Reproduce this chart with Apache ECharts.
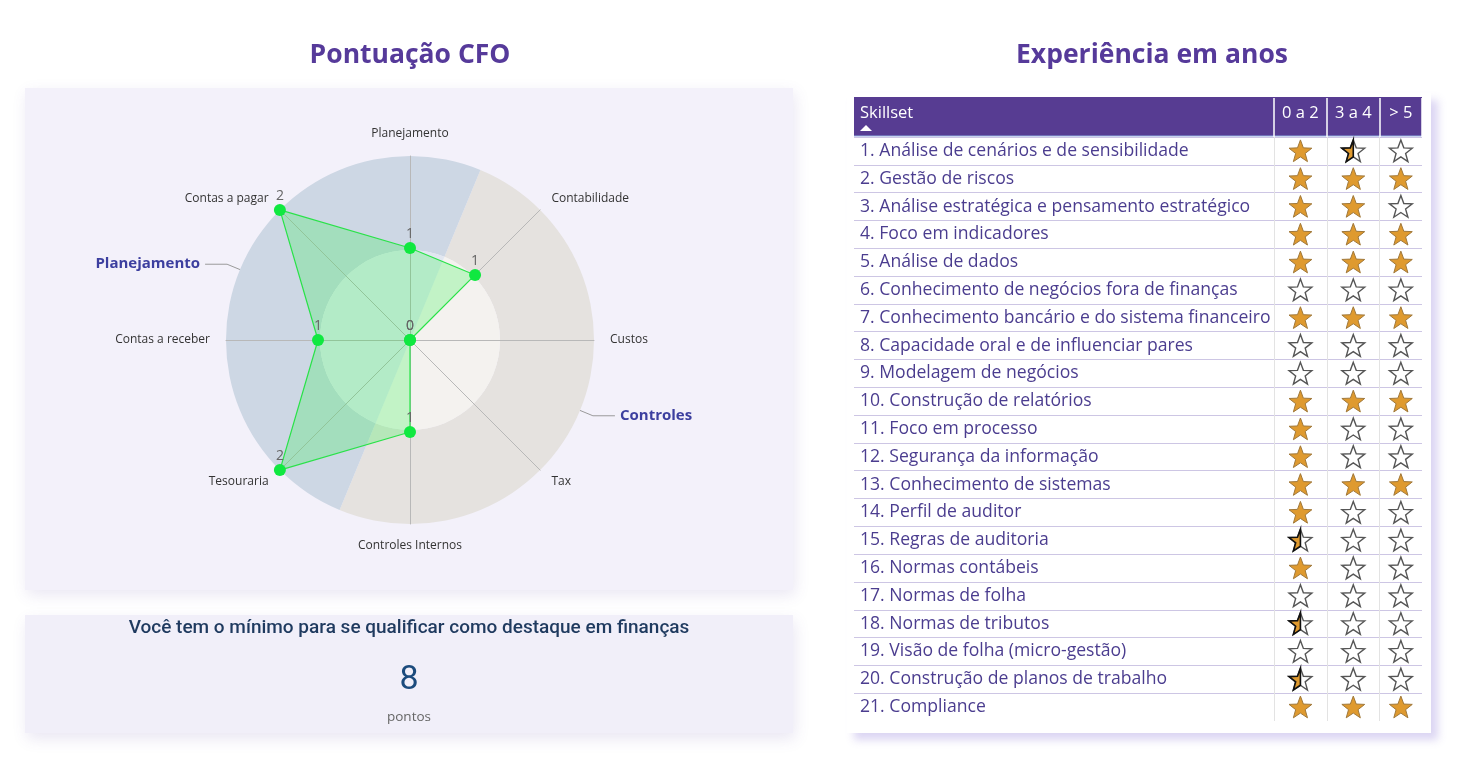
<!DOCTYPE html>
<html><head><meta charset="utf-8">
<script src="https://cdn.jsdelivr.net/npm/echarts@6/dist/echarts.min.js"></script>
<style>html,body{margin:0;padding:0;background:#fff}#c{width:1469px;height:773px}</style>
</head><body><div id="c"></div>
<script>
// ---------- DATA ----------
const radarAxes = ['Planejamento','Contas a pagar','Contas a receber','Tesouraria','Controles Internos','Tax','Custos','Contabilidade'];
const radarValues = [1, 2, 1, 2, 1, 0, 0, 1];
const radarMax = 2;
const groupNames = ['Controles', 'Planejamento'];
const groupSizes = [4, 4];
const skills = [
  '1. Análise de cenários e de sensibilidade',
  '2. Gestão de riscos',
  '3. Análise estratégica e pensamento estratégico',
  '4. Foco em indicadores',
  '5. Análise de dados',
  '6. Conhecimento de negócios fora de finanças',
  '7. Conhecimento bancário e do sistema financeiro',
  '8. Capacidade oral e de influenciar pares',
  '9. Modelagem de negócios',
  '10. Construção de relatórios',
  '11. Foco em processo',
  '12. Segurança da informação',
  '13. Conhecimento de sistemas',
  '14. Perfil de auditor',
  '15. Regras de auditoria',
  '16. Normas contábeis',
  '17. Normas de folha',
  '18. Normas de tributos',
  '19. Visão de folha (micro-gestão)',
  '20. Construção de planos de trabalho',
  '21. Compliance'
];
const yearBands = ['0 a 2', '3 a 4', '> 5'];
const stars0a2 = [1,1,1,1,1,0,1,0,0,1,1,1,1,1,0.5,1,0,0.5,0,0.5,1];
const stars3a4 = [0.5,1,1,1,1,0,1,0,0,1,0,0,1,0,0,0,0,0,0,0,1];
const stars5   = [0,1,0,1,1,0,1,0,0,1,0,0,1,0,0,0,0,0,0,0,1];
const scoreTitle = 'Você tem o mínimo para se qualificar como destaque em finanças';
const scoreUnit = 'pontos';

// ---------- STYLE ----------
const FONT = 'Open Sans';
const purple = '#573c92';
const titleColor = '#563a9a';
const outerColors = ['#e5e2df', '#cdd7e4'];
const innerColors = ['#f4f2ef', '#e1e7f0'];
const xMax = 2.8; // last column is narrower

const starData = [];
[stars0a2, stars3a4, stars5].forEach((arr, c) => arr.forEach((v, r) => starData.push([c, r, v])));

function starPts(cx, cy, R, r) {
  const pts = [];
  for (let k = 0; k < 10; k++) {
    const a = -Math.PI / 2 + k * Math.PI / 5;
    const rad = k % 2 === 0 ? R : r;
    pts.push([cx + rad * Math.cos(a), cy + rad * Math.sin(a)]);
  }
  return pts;
}

const chart = echarts.init(document.getElementById('c'), null, {renderer: 'canvas'});

const option = {
  animation: false,
  backgroundColor: '#ffffff',
  radar: {
    center: [410, 340], radius: 184, startAngle: 90, shape: 'circle', splitNumber: 2, z: 0,
    indicator: radarAxes.map(n => ({name: n, min: 0, max: radarMax})),
    axisName: {color: '#333', fontSize: 12, fontFamily: FONT},
    nameGap: 16,
    axisLine: {lineStyle: {color: '#b8b8b8', width: 1}},
    splitLine: {show: false}, splitArea: {show: false},
    axisTick: {show: false}, axisLabel: {show: false}
  },
  grid: [
    {left: 854, right: 1469 - 1422, top: 137, height: 584, containLabel: false},
    {left: 1274, right: 1469 - 1422, top: 137, height: 584, containLabel: false}
  ],
  xAxis: [
    {gridIndex: 0, type: 'value', show: false, min: 0, max: 1},
    {gridIndex: 1, type: 'value', position: 'top', min: 0, max: xMax, interval: 1,
     axisLine: {show: false}, axisLabel: {show: false},
     axisTick: {show: true, length: 39, lineStyle: {color: '#ffffff', width: 1.5}},
     splitLine: {show: true, showMaxLine: false, lineStyle: {color: '#e3e3e3', width: 1}}}
  ],
  yAxis: [
    {gridIndex: 0, type: 'category', inverse: true, data: skills,
     axisLine: {show: false}, axisTick: {show: false},
     axisLabel: {align: 'left', margin: -6, color: '#4b3d8f', fontSize: 17.6, fontFamily: FONT},
     splitLine: {show: true, showMinLine: true, showMaxLine: false, lineStyle: {color: '#cdc6e4', width: 1}}},
    {gridIndex: 1, type: 'category', inverse: true, data: skills, show: false}
  ],
  series: [
    {type: 'pie', center: [410, 340], radius: [90, 184], startAngle: 90 - 180 / radarAxes.length,
     clockwise: true, z: -1, silent: true, avoidLabelOverlap: false,
     data: groupNames.map((n, i) => ({name: n, value: groupSizes[i], itemStyle: {color: outerColors[i]}})),
     label: {show: true, position: 'outside', fontFamily: FONT, fontWeight: 'bold', fontSize: 15, color: '#3c3f9f', distanceToLabelLine: 5},
     labelLine: {show: true, length: 14, length2: 22, smooth: false, lineStyle: {color: '#9a9a9a', width: 1}},
     emphasis: {disabled: true}},
    {type: 'pie', center: [410, 340], radius: [0, 90], startAngle: 90 - 180 / radarAxes.length,
     clockwise: true, z: -1, silent: true,
     data: groupNames.map((n, i) => ({name: n, value: groupSizes[i], itemStyle: {color: innerColors[i]}})),
     label: {show: false}, labelLine: {show: false}, emphasis: {disabled: true}},
    {type: 'radar', z: 3, silent: true,
     symbol: 'circle', symbolSize: 12,
     itemStyle: {color: '#10e840'},
     lineStyle: {color: '#2ee04d', width: 1.2},
     areaStyle: {color: 'rgba(0,252,40,0.29)'},
     label: {show: true, position: 'top', distance: 1, color: '#666', fontSize: 14, fontFamily: FONT},
     data: [{value: radarValues, name: 'Pontuação'}]},
    {type: 'custom', xAxisIndex: 1, yAxisIndex: 1, z: 4, silent: true,
     data: starData,
     renderItem: function (params, api) {
       const col = api.value(0), row = api.value(1), v = api.value(2);
       const x0 = api.coord([col, row])[0];
       const x1 = api.coord([Math.min(col + 1, xMax), row])[0];
       const cy = api.coord([col, row])[1] + 1;
       const cx = (x0 + x1) / 2;
       const pts = starPts(cx, cy, 12, 5);
       const children = [];
       if (v >= 1) {
         children.push({type: 'polygon', shape: {points: pts}, style: {fill: '#df9a2f', stroke: '#a0783a', lineWidth: 1}});
       } else {
         children.push({type: 'polygon', shape: {points: pts}, style: {fill: '#ffffff', stroke: '#555555', lineWidth: 1.4}});
         if (v > 0) {
           const half = [pts[5], pts[6], pts[7], pts[8], pts[9], pts[0]];
           children.push({type: 'polygon', shape: {points: half}, style: {fill: '#df9a2f', stroke: '#111111', lineWidth: 1.6}});
         }
       }
       return {type: 'group', children: children};
     }}
  ]
};
chart.setOption(option);

// header labels placed with the axis scale
const headerTexts = yearBands.map((b, c) => {
  const a = chart.convertToPixel({xAxisIndex: 1}, c);
  const b2 = chart.convertToPixel({xAxisIndex: 1}, Math.min(c + 1, xMax));
  return {type: 'text', x: (a + b2) / 2, y: 113, z: 20,
    style: {text: b, fill: '#ffffff', fontSize: 16.5, fontFamily: FONT, align: 'center', verticalAlign: 'middle'}};
});
const total = radarValues.reduce((s, v) => s + v, 0);

chart.setOption({
  graphic: [
    {type: 'rect', z: -20, shape: {x: 25, y: 88, width: 768, height: 502},
     style: {fill: '#f3f1fa', shadowBlur: 14, shadowOffsetY: 5, shadowOffsetX: 2, shadowColor: 'rgba(90,70,160,0.13)'}},
    {type: 'rect', z: -20, shape: {x: 25, y: 615, width: 768, height: 118},
     style: {fill: '#f1eff9', shadowBlur: 14, shadowOffsetY: 6, shadowOffsetX: 2, shadowColor: 'rgba(90,70,160,0.13)'}},
    {type: 'rect', z: -20, shape: {x: 847, y: 93, width: 584, height: 640},
     style: {fill: '#ffffff', shadowBlur: 8, shadowOffsetY: 7, shadowOffsetX: 7, shadowColor: 'rgba(140,120,215,0.30)'}},
    {type: 'rect', z: -5, shape: {x: 854, y: 97, width: 568, height: 39}, style: {fill: purple}},
    {type: 'line', z: -4, shape: {x1: 854, y1: 136, x2: 1422, y2: 136}, style: {stroke: '#8fa8e0', lineWidth: 1}},
    {type: 'text', z: 20, x: 860, y: 113, style: {text: 'Skillset', fill: '#fff', fontSize: 16.5, fontFamily: FONT, align: 'left', verticalAlign: 'middle'}},
    {type: 'polygon', z: 20, shape: {points: [[860, 131], [872, 131], [866, 125]]}, style: {fill: '#fff'}},
    {type: 'text', z: 20, x: 410, y: 55, style: {text: 'Pontuação CFO', fill: titleColor, fontSize: 26.5, fontWeight: 'bold', fontFamily: FONT, align: 'center', verticalAlign: 'middle'}},
    {type: 'text', z: 20, x: 1152, y: 55, style: {text: 'Experiência em anos', fill: titleColor, fontSize: 26.5, fontWeight: 'bold', fontFamily: FONT, align: 'center', verticalAlign: 'middle'}},
    {type: 'text', z: 20, x: 409, y: 628, style: {text: scoreTitle, fill: '#1f3a5f', fontSize: 19, fontWeight: 500, fontFamily: 'Roboto', align: 'center', verticalAlign: 'middle'}},
    {type: 'text', z: 20, x: 409, y: 680, style: {text: String(total), fill: '#1c4b7d', fontSize: 34, fontFamily: 'Roboto', align: 'center', verticalAlign: 'middle'}},
    {type: 'text', z: 20, x: 409, y: 717, style: {text: scoreUnit, fill: '#666', fontSize: 13.5, fontFamily: FONT, align: 'center', verticalAlign: 'middle'}}
  ].concat(headerTexts)
});
</script></body></html>
